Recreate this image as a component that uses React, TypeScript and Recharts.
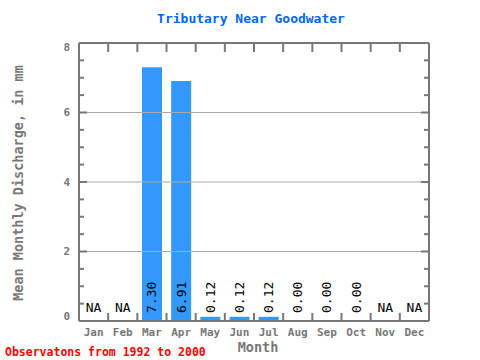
import { BarChart, Bar, XAxis, YAxis, ReferenceLine } from "recharts";

const months = ["Jan", "Feb", "Mar", "Apr", "May", "Jun", "Jul", "Aug", "Sep", "Oct", "Nov", "Dec"];
// null = no observations (shown as NA)
const discharge: (number | null)[] = [null, null, 7.3, 6.91, 0.12, 0.12, 0.12, 0.0, 0.0, 0.0, null, null];
const yTicks = [0, 0.5, 1, 1.5, 2, 2.5, 3, 3.5, 4, 4.5, 5, 5.5, 6, 6.5, 7, 7.5, 8];
const yLabelTicks = [0, 2, 4, 6, 8];
const gridLevels = [2, 4, 6];
const monthEdges = [1, 2, 3, 4, 5, 6, 7, 8, 9, 10, 11];

const AXIS = "#777777";
const MONO = "'DejaVu Sans Mono', 'Liberation Mono', monospace";
const TOP = 43;
const BOTTOM = 321;

const data = months.map((m, i) => ({
  month: m,
  value: discharge[i],
  label: discharge[i] == null ? "NA" : (discharge[i] as number).toFixed(2),
  slot: i + 0.5,
}));

const LeftTick = ({ x, y, payload }: any) => {
  const major = yLabelTicks.includes(payload.value);
  // keep end labels inside the frame like the original
  const ly = Math.min(Math.max(y, TOP + 4), BOTTOM - 5);
  return (
    <g>
      <line x1={x} x2={x + (major ? 8 : 5)} y1={y} y2={y} stroke={AXIS} strokeWidth={2} />
      {major && (
        <text x={x - 9} y={ly} dy="0.35em" textAnchor="end" fill={AXIS} fontSize={11} fontWeight="bold" fontFamily={MONO}>
          {payload.value}
        </text>
      )}
    </g>
  );
};

const RightTick = ({ x, y, payload }: any) => {
  const major = yLabelTicks.includes(payload.value);
  return <line x1={x} x2={x - (major ? 8 : 5)} y1={y} y2={y} stroke={AXIS} strokeWidth={2} />;
};

// month boundary ticks on the top edge and the bottom edge
const EdgeTick = ({ x, y }: any) => (
  <g>
    <line x1={x} x2={x} y1={y} y2={y + 9} stroke={AXIS} strokeWidth={2} />
    <line x1={x} x2={x} y1={BOTTOM} y2={BOTTOM - 8} stroke={AXIS} strokeWidth={2} />
  </g>
);

const ValueTick = ({ x, index }: any) => {
  const text = data[index].label;
  if (text === "NA") {
    return (
      <text x={x} y={BOTTOM - 14} dy="0.35em" textAnchor="middle" fontSize={13} fontFamily={MONO} fill="#000">
        {text}
      </text>
    );
  }
  const by = BOTTOM - 8;
  return (
    <text x={x} y={by} dy="0.35em" textAnchor="start" fontSize={13} fontFamily={MONO} fill="#000" transform={`rotate(-90 ${x} ${by})`}>
      {text}
    </text>
  );
};

export default function App() {
  return (
    <div style={{ position: "absolute", left: 0, top: 0, width: 480, height: 360, background: "#fff" }}>
      <BarChart width={480} height={360} data={data} margin={{ top: TOP - 1, right: 50, bottom: 360 - BOTTOM - 2, left: 78 }} barCategoryGap="16%">
        {gridLevels.map((g) => (
          <ReferenceLine key={g} y={g} stroke="#aaaaaa" strokeWidth={1} />
        ))}
        <Bar dataKey="value" fill="#3399ff" isAnimationActive={false} />
        <YAxis
          domain={[0, 8]}
          ticks={yTicks}
          interval={0}
          width={1}
          tickSize={0}
          tickMargin={0}
          tick={<LeftTick />}
          axisLine={{ stroke: AXIS, strokeWidth: 2 }}
          allowDataOverflow
        />
        <YAxis
          yAxisId="r"
          orientation="right"
          domain={[0, 8]}
          ticks={yTicks}
          interval={0}
          width={1}
          tickSize={0}
          tickMargin={0}
          tick={<RightTick />}
          axisLine={{ stroke: AXIS, strokeWidth: 2 }}
          allowDataOverflow
        />
        <XAxis
          dataKey="month"
          height={1}
          tickLine={false}
          tickSize={0}
          tickMargin={7}
          interval={0}
          axisLine={{ stroke: AXIS, strokeWidth: 2 }}
          tick={{ fill: AXIS, fontSize: 11, fontWeight: "bold", fontFamily: MONO }}
        />
        <XAxis
          xAxisId="vals"
          dataKey="month"
          height={1}
          tickLine={false}
          tickSize={0}
          tickMargin={0}
          interval={0}
          axisLine={false}
          tick={<ValueTick />}
        />
        <XAxis
          xAxisId="top"
          orientation="top"
          type="number"
          dataKey="slot"
          domain={[0, 12]}
          ticks={monthEdges}
          interval={0}
          height={1}
          tickSize={0}
          tickMargin={0}
          axisLine={{ stroke: AXIS, strokeWidth: 2 }}
          tick={<EdgeTick />}
          allowDataOverflow
        />
      </BarChart>
      <svg width={480} height={360} style={{ position: "absolute", left: 0, top: 0, pointerEvents: "none" }}>
        <text x={251} y={18} dy="0.35em" textAnchor="middle" fill="#0066ff" fontSize={13} fontWeight="bold" fontFamily={MONO}>
          Tributary Near Goodwater
        </text>
        <text x={18} y={183} dy="0.35em" textAnchor="middle" fill={AXIS} fontSize={13.5} fontWeight="bold" fontFamily={MONO} transform="rotate(-90 18 183)">
          Mean Monthly Discharge, in mm
        </text>
        <text x={258} y={347} dy="0.35em" textAnchor="middle" fill={AXIS} fontSize={13.5} fontWeight="bold" fontFamily={MONO}>
          Month
        </text>
        <text x={5} y={352} dy="0.35em" textAnchor="start" fill="#ff0000" fontSize={11.5} fontWeight="bold" fontFamily={MONO}>
          Observatons from 1992 to 2000
        </text>
      </svg>
    </div>
  );
}
